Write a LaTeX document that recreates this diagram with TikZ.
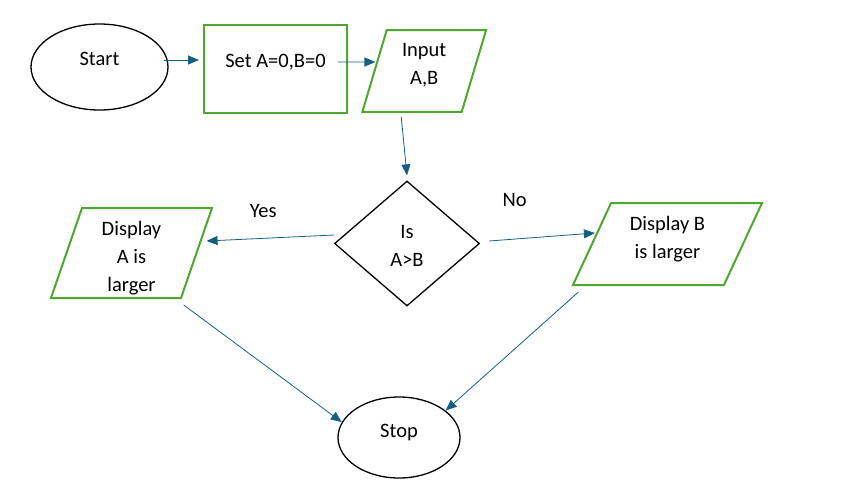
\documentclass[tikz,border=0pt]{standalone}
\usepackage{fontspec}
\setmainfont{Carlito}
\usetikzlibrary{shapes.geometric, arrows.meta}

\definecolor{boxgreen}{RGB}{78,167,46}
\definecolor{arrowblue}{RGB}{21,96,130}

\tikzset{
    terminal/.style={draw, ellipse, line width=1.3pt, inner sep=0pt},
    process/.style={draw=boxgreen, rectangle, line width=2pt, inner sep=0pt},
    io/.style={draw=boxgreen, trapezium, trapezium stretches body, line width=2pt, inner sep=0pt, text depth=0pt},
    decision/.style={draw, diamond, line width=1.3pt, inner sep=0pt},
    flow/.style={draw=arrowblue, line width=0.8pt, -{Triangle[length=11pt, width=9pt]}},
    txt/.style={anchor=center, align=center}
}

\begin{document}
\begin{tikzpicture}[x=1pt, y=-1pt, font=\fontsize{20.5}{28}\selectfont]
        \useasboundingbox (0,0) rectangle (858,490);
        \draw (99.5,67) node(start) [terminal,
            minimum width = 137,
            minimum height = 86,
            label={[txt, yshift=8pt]center:Start}] {};
        \draw (275.5,68.5) node(set) [process,
            minimum width = 143,
            minimum height = 88,
            label={[txt, yshift=6.5pt]center:Set A=0,B=0}] {};
        \draw (424.2,71) node(input) [io,
            trapezium left angle = 73.4,
            trapezium right angle = 106.6,
            minimum width = 123.7,
            text height = 81.7pt,
            label={[txt, yshift=6pt]center:Input\\A,B}] {};
        \draw (407,243.5) node(test) [decision,
            minimum width = 145,
            minimum height = 125,
            label={[txt, yshift=-2.5pt]center:Is\\A>B}] {};
        \draw (131.5,253) node(showA) [io,
            trapezium left angle = 71,
            trapezium right angle = 109,
            minimum width = 161,
            text height = 90pt,
            label={[txt, yshift=-5pt]center:Display\\A is\\larger}] {};
        \draw (667.5,244) node(showB) [io,
            trapezium left angle = 65.1,
            trapezium right angle = 114.9,
            minimum width = 189,
            text height = 82pt,
            label={[txt, yshift=5pt]center:Display B\\is larger}] {};
        \draw (399,437.5) node(stop) [terminal,
            minimum width = 122,
            minimum height = 81,
            label={[txt, yshift=5pt]center:Stop}] {};
        % connectors
        \draw[flow] ([shift={(-5pt,7pt)}]start.east) -- ([shift={(-4pt,8.5pt)}]set.west);
        \draw[flow] ([shift={(-10pt,6.5pt)}]set.east) -- ([shift={(2pt,9pt)}]input.west);
        \draw[flow] ([shift={(-23pt,-45.7pt)}]input.center) -- ([yshift=5pt]test.north);
        \draw[flow] ([yshift=8.5pt]test.west) -- ([shift={(9pt,12pt)}]showA.east)
            node[pos=0.555, yshift=27pt] {Yes};
        \draw[flow] ([shift={(9pt,2.5pt)}]test.east) -- ([shift={(4pt,11pt)}]showB.west)
            node[pos=0.24, yshift=39pt] {No};
        \draw[flow] ([shift={(2pt,-6pt)}]showA.bottom right corner) -- (stop.165);
        \draw[flow] ([shift={(7pt,-6pt)}]showB.bottom left corner) -- (stop.30);
    \end{tikzpicture}
\end{document}
